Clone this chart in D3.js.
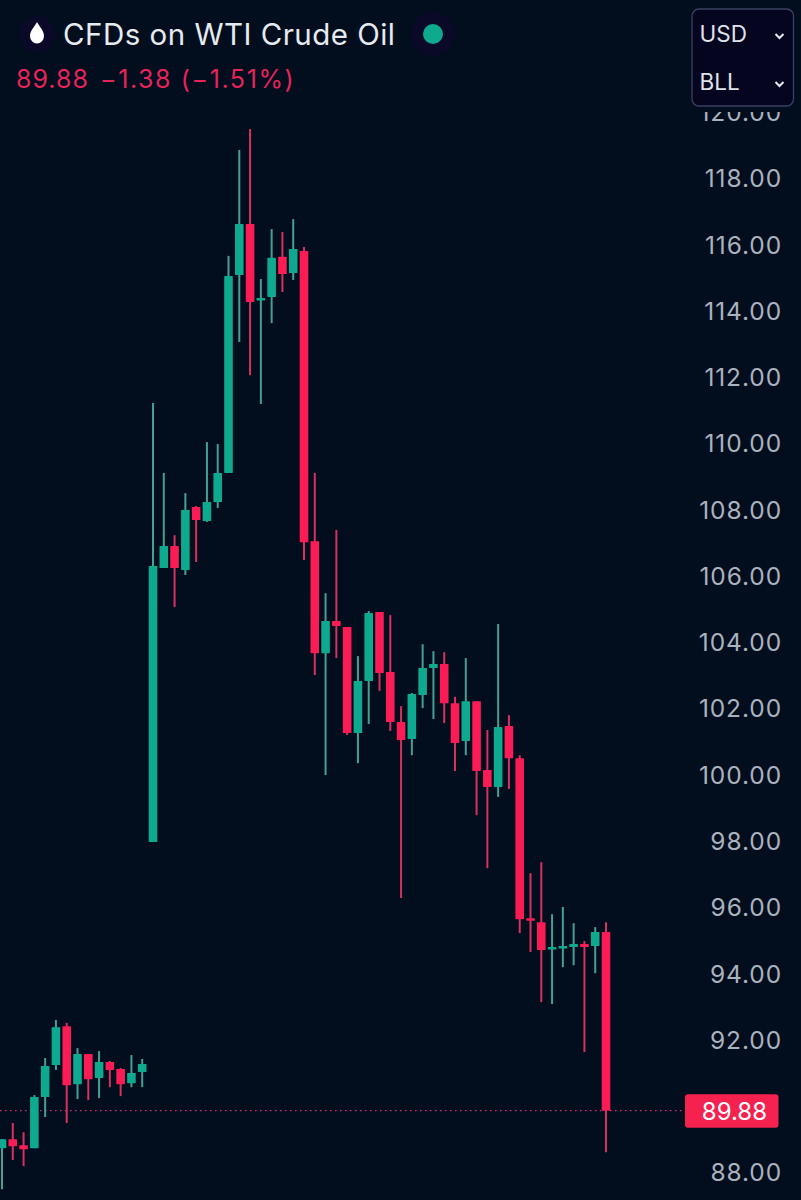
<!DOCTYPE html>
<html lang="en">
<head>
    <meta charset="UTF-8">
    <title>CFDs on WTI Crude Oil</title>
    <style>
        html, body { margin: 0; padding: 0; background: #020d1e; }
        svg { display: block; }
        text { font-family: Inter, "Noto Sans", sans-serif; }
    </style>
</head>
<body>
<div class="graph"></div>
<script src="https://d3js.org/d3.v7.min.js"></script>
<script>
    var w = 801, h = 1200;

    var opens = [88.75,89.02,88.84,88.75,90.29,91.26,92.43,90.68,91.59,90.87,91.35,91.14,90.71,91.05,
        97.99,106.26,106.92,106.20,108.10,107.68,108.25,109.13,115.10,116.64,114.35,114.44,115.65,115.16,115.83,107.07,
        103.69,104.66,104.48,101.28,102.85,104.93,103.12,101.61,101.10,102.43,103.24,103.36,102.18,101.04,102.24,100.16,
        99.65,101.49,100.52,95.69,95.57,94.76,94.79,94.82,94.91,94.85,95.27];
    var highs = [89.02,89.51,89.23,90.35,91.47,92.62,92.53,91.77,91.59,91.68,91.38,91.17,91.56,91.44,
        111.24,109.13,107.25,108.52,108.13,110.06,110.00,115.68,118.88,119.51,114.98,116.49,116.40,116.79,115.95,109.13,
        105.50,107.41,104.48,103.60,104.96,104.93,104.84,102.09,102.49,103.96,103.75,103.72,102.37,103.54,102.24,101.37,
        104.57,101.82,100.61,97.05,97.38,95.81,96.03,95.54,95.00,95.42,95.57];
    var lows = [87.51,88.39,88.21,88.75,89.69,91.11,89.51,90.23,90.20,90.26,90.59,90.32,90.59,90.59,
        97.99,106.26,105.08,106.05,106.44,107.65,108.07,109.13,113.08,112.08,111.21,113.65,114.59,114.95,106.50,103.03,
        100.01,103.54,101.22,100.37,101.55,102.55,101.34,96.30,100.61,102.03,101.70,101.58,100.13,100.61,98.80,97.20,
        99.35,99.59,95.24,94.67,93.16,93.10,94.21,94.27,91.65,94.03,88.63];
    var closes = [89.02,88.81,88.72,90.29,91.23,92.40,90.65,91.59,90.83,91.35,91.11,90.68,91.02,91.29,
        106.32,106.92,106.26,108.01,107.71,108.25,109.13,115.07,116.64,114.29,114.41,115.62,115.13,115.89,107.04,103.69,
        104.66,104.51,101.28,102.85,104.90,103.09,101.61,101.07,102.46,103.24,103.36,102.18,100.98,102.24,100.13,99.65,
        101.46,100.52,95.66,95.63,94.73,94.82,94.85,94.91,94.82,95.27,89.88];
    var priceTicks = [88,92,94,96,98,100,102,104,106,108,110,112,114,116,118,120];
    var lastPrice = 89.88;

    var green = "#0fa98f", red = "#fb1c55";
    var greenWick = "#459f94", redWick = "#d8305f";
    var bg = "#020d1e";

    var svg = d3.select(".graph")
        .append("svg")
        .attr("width", w)
        .attr("height", h);

    svg.append("rect").attr("width", w).attr("height", h).attr("fill", bg);

    var x = d3.scaleLinear().domain([0, opens.length - 1]).range([2, 606]);
    var y = d3.scaleLinear().domain([88, 118]).range([1173, 179]);

    // price axis
    var axis = svg.append("g")
        .attr("transform", "translate(782,0)")
        .call(d3.axisRight(y).tickValues(priceTicks).tickSize(0).tickPadding(0).tickFormat(d3.format(".2f")));
    axis.select(".domain").remove();
    axis.selectAll("text")
        .attr("text-anchor", "end")
        .attr("fill", "#aab2bd")
        .style("font-size", "24.5px")
        .style("letter-spacing", "0.9px")
        .style("font-family", "Inter, sans-serif");

    // the 120 label is cut off under the header
    svg.append("rect").attr("x", 660).attr("y", 0).attr("width", 141).attr("height", 112).attr("fill", bg);

    // last price line
    svg.append("line")
        .attr("x1", 0).attr("x2", 685)
        .attr("y1", y(lastPrice)).attr("y2", y(lastPrice))
        .attr("stroke", "#d8306a")
        .attr("stroke-width", 1.2)
        .attr("stroke-dasharray", "1.5 3.5");

    // candles
    var candles = svg.append("g").selectAll("g").data(opens).enter().append("g");
    candles.append("line")
        .attr("x1", function(d, i) { return x(i); })
        .attr("x2", function(d, i) { return x(i); })
        .attr("y1", function(d, i) { return y(highs[i]); })
        .attr("y2", function(d, i) { return y(lows[i]); })
        .attr("stroke-width", 2)
        .attr("stroke", function(d, i) { return closes[i] >= d ? greenWick : redWick; });
    candles.append("rect")
        .attr("x", function(d, i) { return x(i) - 4.3; })
        .attr("width", 8.6)
        .attr("y", function(d, i) { return y(Math.max(d, closes[i])); })
        .attr("height", function(d, i) { return Math.max(2.5, Math.abs(y(d) - y(closes[i]))); })
        .attr("rx", 0.6)
        .attr("fill", function(d, i) { return closes[i] >= d ? green : red; });

    // last price tag
    svg.append("rect")
        .attr("x", 685).attr("y", y(lastPrice) - 16.5)
        .attr("width", 93.5).attr("height", 33.5)
        .attr("rx", 3)
        .attr("fill", "#f5214f");
    svg.append("text")
        .attr("x", 767).attr("y", y(lastPrice) + 9)
        .attr("text-anchor", "end")
        .attr("fill", "#ffffff")
        .style("font-size", "24px")
        .text(d3.format(".2f")(lastPrice));

    // header
    svg.append("circle").attr("cx", 37).attr("cy", 34).attr("r", 18).attr("fill", "#0a0a28");
    svg.append("path")
        .attr("d", "M37 22 C39.5 27 44 30.5 44 36 A7 7.5 0 0 1 30 36 C30 30.5 34.5 27 37 22 Z")
        .attr("fill", "#ffffff");
    svg.append("text")
        .attr("x", 63).attr("y", 45)
        .attr("fill", "#e6ebf0")
        .style("font-size", "29.5px")
        .style("letter-spacing", "0.48px")
        .text("CFDs on WTI Crude Oil");
    svg.append("circle").attr("cx", 433).attr("cy", 34).attr("r", 22).attr("fill", "#0a0a28");
    svg.append("circle").attr("cx", 433).attr("cy", 34).attr("r", 10).attr("fill", green);
    svg.append("text")
        .attr("x", 16).attr("y", 88)
        .attr("fill", "#e5245a")
        .style("font-size", "25px")
        .style("letter-spacing", "1px")
        .text("89.88");
    svg.append("text")
        .attr("x", 100).attr("y", 88)
        .attr("fill", "#e5245a")
        .style("font-size", "25px")
        .style("letter-spacing", "1.6px")
        .text("\u22121.38 (\u22121.51%)");

    // unit panel
    svg.append("rect")
        .attr("x", 692).attr("y", 9)
        .attr("width", 101.5).attr("height", 97)
        .attr("rx", 7)
        .attr("fill", "#06051f")
        .attr("stroke", "#3b4163")
        .attr("stroke-width", 1.3);
    [["USD", 42], ["BLL", 90]].forEach(function(p) {
        svg.append("text")
            .attr("x", 699.5).attr("y", p[1])
            .attr("fill", "#dfe3ea")
            .style("font-size", "22.5px")
            .text(p[0]);
        svg.append("path")
            .attr("d", "M775.5 " + (p[1] - 8) + " l4 4 l4 -4")
            .attr("fill", "none")
            .attr("stroke", "#e6e9ef")
            .attr("stroke-width", 2);
    });
</script>
</body>
</html>
